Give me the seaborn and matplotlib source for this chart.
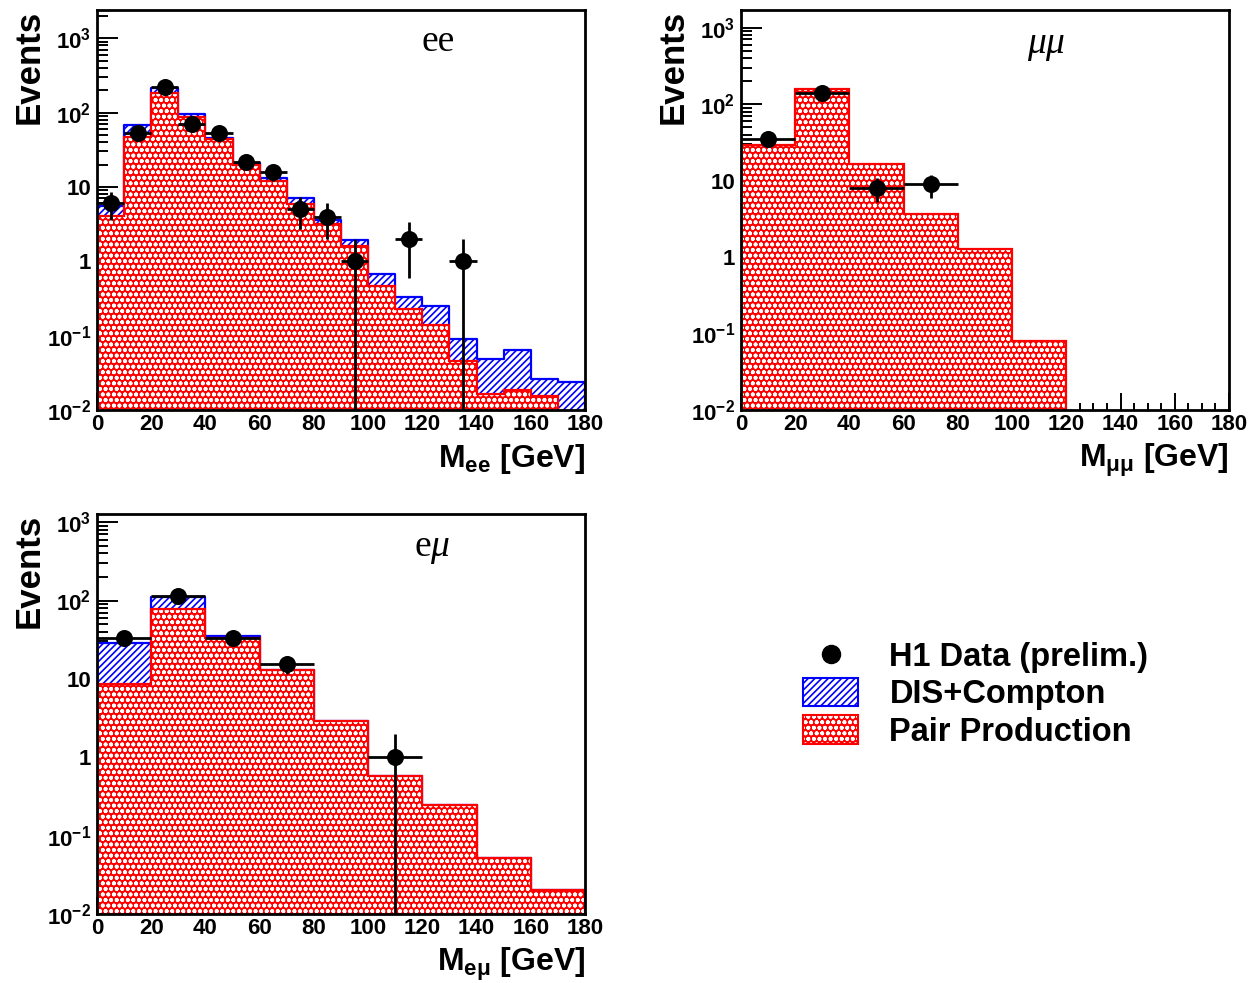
import numpy as np
import pandas as pd
import matplotlib
matplotlib.use("Agg")
import matplotlib.pyplot as plt
import seaborn as sns
from matplotlib.patches import Patch
from matplotlib.lines import Line2D
from matplotlib.ticker import MultipleLocator, LogLocator, NullFormatter

# ---------------- data ----------------
ee_edges = [0, 10, 20, 30, 40, 50, 60, 70, 80, 90, 100, 110, 120, 130, 140, 150, 160, 170, 180]
ee_pair = [4.1, 47, 183, 86, 44, 20, 11.9, 5.9, 3.2, 1.6, 0.46, 0.23, 0.14, 0.046, 0.0165, 0.0187, 0.0155, 0.0]
ee_dis = [1.5, 21, 31, 11, 2.0, 0.8, 1.3, 1.2, 0.4, 0.35, 0.21, 0.105, 0.11, 0.044, 0.032, 0.046, 0.0105, 0.024]
ee_data_x = [5, 15, 25, 35, 45, 55, 65, 75, 85, 95, 115, 135]
ee_data_n = [6, 54, 220, 71, 53, 22, 16, 5, 4, 1, 2, 1]
ee_data_err = [2.45, 7.35, 14.8, 8.43, 7.28, 4.69, 4.0, 2.24, 2.0, 1.0, 1.41, 1.0]

mm_edges = [0, 20, 40, 60, 80, 100, 120]
mm_pair = [29.6, 157, 16.6, 3.65, 1.28, 0.080]
mm_dis = [0, 0, 0, 0, 0, 0]
mm_data_x = [10, 30, 50, 70]
mm_data_n = [35, 140, 8, 9]
mm_data_err = [5.9, 11.8, 2.83, 3.0]

em_edges = [0, 20, 40, 60, 80, 100, 120, 140, 160, 180]
em_pair = [8.7, 79, 32.9, 12.9, 2.87, 0.569, 0.245, 0.0516, 0.0202]
em_dis = [20.2, 33, 2.0, 0, 0, 0, 0, 0, 0]
em_data_x = [10, 30, 50, 70, 110]
em_data_n = [33, 113, 33, 15.5, 1]
em_data_err = [5.74, 10.6, 5.74, 3.94, 1.0]

ytick_vals = [1e-2, 1e-1, 1, 10, 1e2, 1e3]
ytick_labels = [r"$10^{-2}$", r"$10^{-1}$", "1", "10", r"$10^{2}$", r"$10^{3}$"]
xtick_vals = [0, 20, 40, 60, 80, 100, 120, 140, 160, 180]
legend_labels = ["H1 Data (prelim.)", "DIS+Compton", "Pair Production"]

# ---------------- style ----------------
sns.set_theme(style="ticks")
plt.rcParams["font.family"] = ["Liberation Sans", "DejaVu Sans"]
plt.rcParams["font.weight"] = "bold"
plt.rcParams["mathtext.default"] = "regular"
plt.rcParams["mathtext.fontset"] = "custom"
plt.rcParams["mathtext.rm"] = "Liberation Serif:weight=normal"
plt.rcParams["mathtext.it"] = "Liberation Serif:style=italic:weight=normal"
plt.rcParams["hatch.linewidth"] = 1.2
for key in ["text.color", "axes.labelcolor", "xtick.color", "ytick.color", "axes.edgecolor"]:
    plt.rcParams[key] = "black"

W, H = 1250, 983
fig = plt.figure(figsize=(W / 100, H / 100), dpi=100)

RED_HATCH = "ooo"


def add_axes_px(x0, y0, x1, y1):
    return fig.add_axes([x0 / W, 1 - y1 / H, (x1 - x0) / W, (y1 - y0) / H])


def draw_panel(ax, edges, pair, dis, dx, dn, derr, xerr, ytop, title, tpos, xlabel):
    edges_arr = np.asarray(edges, float)
    centers = 0.5 * (edges_arr[:-1] + edges_arr[1:])
    pair = np.asarray(pair, float)
    dis = np.asarray(dis, float)
    df = pd.DataFrame({"mass": centers, "pair": pair, "total": pair + dis})
    ax.set_yscale("log")
    if dis.any():
        sns.histplot(data=df, x="mass", weights="total", bins=list(edges), element="step",
                     fill=True, ax=ax, color="blue")
        c = ax.collections[-1]
        c.set_alpha(1)
        c.set_facecolor("white")
        c.set_edgecolor("blue")
        c.set_hatch("/////")
        c.set_linewidth(1.6)
    sns.histplot(data=df, x="mass", weights="pair", bins=list(edges), element="step",
                 fill=True, ax=ax, color="red")
    c = ax.collections[-1]
    c.set_alpha(1)
    c.set_facecolor("red")
    c.set_edgecolor("white")
    c.set_hatch(RED_HATCH)
    c.set_linewidth(0)
    ax.stairs(pair, edges_arr, color="red", linewidth=1.6, baseline=1e-5)

    ax.errorbar(dx, dn, xerr=xerr, yerr=derr, fmt="none", ecolor="black",
                elinewidth=2, capsize=0, zorder=4)
    sns.scatterplot(x=dx, y=dn, ax=ax, color="black", s=150, edgecolor="black",
                    linewidth=0, zorder=5, legend=False)

    ax.set_xlim(0, 180)
    ax.set_ylim(0.01, ytop)
    ax.set_xticks(xtick_vals)
    ax.set_xticklabels([str(v) for v in xtick_vals])
    ax.xaxis.set_minor_locator(MultipleLocator(5))
    ax.set_yticks(ytick_vals)
    ax.set_yticklabels(ytick_labels)
    ax.yaxis.set_minor_locator(LogLocator(base=10, subs=np.arange(2, 10), numticks=30))
    ax.yaxis.set_minor_formatter(NullFormatter())
    ax.tick_params(which="both", direction="in", top=False, right=False, colors="black",
                   width=1.4)
    ax.tick_params(axis="x", which="major", length=12, labelsize=16, pad=3)
    ax.tick_params(axis="x", which="minor", length=5)
    ax.tick_params(axis="y", which="major", length=15, labelsize=16, pad=4)
    ax.tick_params(axis="y", which="minor", length=8)
    for s in ax.spines.values():
        s.set_color("black")
        s.set_linewidth(2)
    ax.set_facecolor("white")

    ax.set_ylabel("Events", fontsize=25, fontweight="bold", loc="top", color="black")
    ax.yaxis.set_label_coords(-0.105, 1.0)
    ax.set_xlabel(xlabel, fontsize=23, fontweight="bold", loc="right", color="black")
    ax.xaxis.set_label_coords(1.0, -0.08)

    ax.text(tpos[0], tpos[1], title, transform=ax.transAxes, ha="center", va="center",
            fontsize=27, fontweight="normal", family="Liberation Serif", color="black")


ax1 = add_axes_px(97, 10, 585, 410)
draw_panel(ax1, ee_edges, ee_pair, ee_dis, ee_data_x, ee_data_n, ee_data_err, 5, 2400,
           "ee", (0.70, 0.92), r"M$_{ee}$ [GeV]")

ax2 = add_axes_px(741, 10, 1229, 410)
draw_panel(ax2, mm_edges, mm_pair, mm_dis, mm_data_x, mm_data_n, mm_data_err, 10, 1700,
           r"$\mathit{\mu\mu}$", (0.625, 0.91), r"M$_{\mu\mu}$ [GeV]")

ax3 = add_axes_px(97, 514, 585, 914)
draw_panel(ax3, em_edges, em_pair, em_dis, em_data_x, em_data_n, em_data_err, 10, 1270,
           r"e$\mathit{\mu}$", (0.686, 0.913), r"M$_{e\mu}$ [GeV]")

h_data = Line2D([], [], marker="o", color="black", linestyle="none", markersize=13)
h_dis = Patch(facecolor="white", edgecolor="blue", hatch="/////", linewidth=1.5)
h_pair = (Patch(facecolor="red", edgecolor="white", hatch=RED_HATCH, linewidth=0),
          Patch(facecolor="none", edgecolor="red", linewidth=1.5))
fig.legend([h_data, h_dis, h_pair], legend_labels, loc="upper left",
           bbox_to_anchor=(803 / W, 1 - 641 / H), frameon=False,
           prop={"size": 23.5, "weight": "bold"}, handlelength=1.7, handleheight=0.95,
           labelspacing=0.15, handletextpad=0.95, borderpad=0, borderaxespad=0)

fig.savefig("out.png", dpi=100, facecolor="white")
